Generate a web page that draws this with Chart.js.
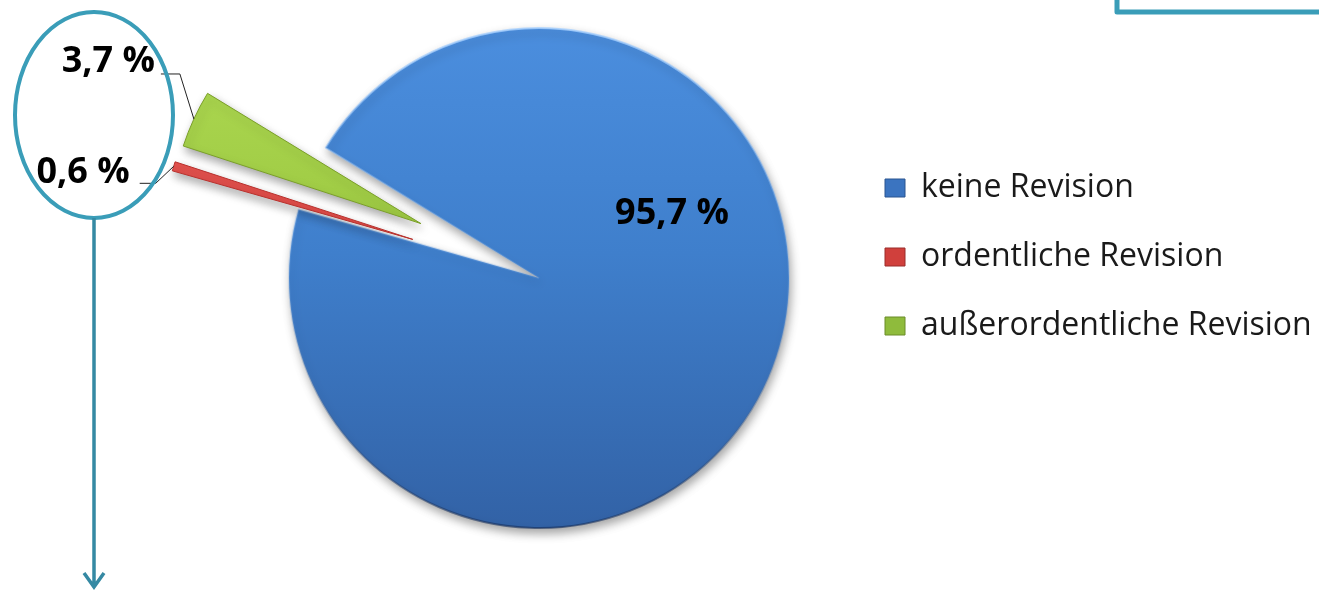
<!DOCTYPE html>
<html lang="de">
<head>
<meta charset="utf-8">
<title>Revisionen</title>
<script src="https://cdn.jsdelivr.net/npm/chart.js@4.4.1/dist/chart.umd.min.js"></script>
<style>
  html, body { margin: 0; padding: 0; background: #fff; }
  #wrap { position: relative; width: 1319px; height: 590px; }
</style>
</head>
<body>
<div id="wrap"><canvas id="revChart"></canvas></div>
<script>
// Anteile der Verfahren in Prozent
const categories = ['keine Revision', 'ordentliche Revision', 'außerordentliche Revision'];
const shares = [95.7, 0.6, 3.7];

const PIE_RADIUS = 250;
const TEAL = '#3a9db8';
const LABEL_FONT = 'bold 36px "Open Sans", Lato, sans-serif';

const fmt = v => v.toFixed(1).replace('.', ',') + ' %';

// arc that is pushed out along its middle angle by a fixed distance,
// without the radius and angle changes that the built-in offset brings
class ExplodedArc extends Chart.ArcElement {
  static id = 'explodedArc';
  static defaults = { ...Chart.ArcElement.defaults, explode: 0 };
  draw(ctx) {
    const d = this.options.explode || 0;
    const mid = (this.startAngle + this.endAngle) / 2;
    ctx.save();
    ctx.translate(Math.cos(mid) * d, Math.sin(mid) * d);
    super.draw(ctx);
    ctx.restore();
  }
}

class ExplodedPieController extends Chart.PieController {
  static id = 'explodedPie';
  static defaults = { dataElementType: 'explodedArc' };
}

Chart.register(ExplodedArc, ExplodedPieController);

// vertical shading per slice, light on top, darker below
function sliceFill(context) {
  const chart = context.chart;
  const area = chart.chartArea;
  if (!area) return '#3f7fcc';
  const cy = (area.top + area.bottom) / 2;
  const g = chart.ctx.createLinearGradient(0, cy - PIE_RADIUS, 0, cy + PIE_RADIUS);
  const stops = [
    ['#4b8ede', '#3f7fcc', '#3262a6'],
    ['#f26460', '#df4c48', '#b83532'],
    ['#b4df58', '#a0cc45', '#82a82c']
  ][context.dataIndex];
  g.addColorStop(0, stops[0]);
  g.addColorStop(0.45, stops[1]);
  g.addColorStop(1, stops[2]);
  return g;
}

function sliceEdge(context) {
  const chart = context.chart;
  const area = chart.chartArea;
  if (context.dataIndex === 1) return '#b8302c';
  if (context.dataIndex === 2) return '#7a9f28';
  if (!area) return 'rgba(0,0,0,0)';
  const cy = (area.top + area.bottom) / 2;
  const g = chart.ctx.createLinearGradient(0, cy - PIE_RADIUS, 0, cy + PIE_RADIUS);
  g.addColorStop(0, 'rgba(170,210,255,0.8)');
  g.addColorStop(0.5, 'rgba(120,170,230,0.25)');
  g.addColorStop(1, 'rgba(20,45,90,0.6)');
  return g;
}

// soft drop shadow under the slices
const softShadow = {
  id: 'softShadow',
  beforeDatasetsDraw(chart) {
    const c = chart.ctx;
    c.save();
    c.shadowColor = 'rgba(0,0,0,0.35)';
    c.shadowBlur = 10;
    c.shadowOffsetX = 2;
    c.shadowOffsetY = 5;
  },
  afterDatasetsDraw(chart) {
    chart.ctx.restore();
  }
};

// tip of a slice after it has been pushed out
function sliceCenter(arc) {
  const p = arc.getProps(['x', 'y', 'startAngle', 'endAngle'], true);
  const mid = (p.startAngle + p.endAngle) / 2;
  const d = arc.options.explode || 0;
  return { x: p.x + Math.cos(mid) * d, y: p.y + Math.sin(mid) * d, mid: mid };
}

// percentage labels, the small slices get leader lines
const sliceLabels = {
  id: 'sliceLabels',
  afterDraw(chart) {
    const ctx = chart.ctx;
    const arcs = chart.getDatasetMeta(0).data;
    ctx.save();
    ctx.font = LABEL_FONT;
    ctx.fillStyle = '#000';
    ctx.textBaseline = 'middle';

    // big slice: label inside
    const big = sliceCenter(arcs[0]);
    const a = -0.461;
    ctx.textAlign = 'center';
    ctx.fillText(fmt(shares[0]), big.x + Math.cos(a) * PIE_RADIUS * 0.594, big.y + Math.sin(a) * PIE_RADIUS * 0.594 + 2);

    // small slices: elbow line from the outer rim to the label
    const leaders = {
      1: { dx: -18, dy: 17, run: 16, gap: 10, lift: 11 },
      2: { dx: -14, dy: -45, run: 19, gap: 6, lift: 12 }
    };
    ctx.strokeStyle = '#222';
    ctx.lineWidth = 1;
    ctx.textAlign = 'right';
    [1, 2].forEach(i => {
      const c = sliceCenter(arcs[i]);
      const ox = c.x + Math.cos(c.mid) * PIE_RADIUS;
      const oy = c.y + Math.sin(c.mid) * PIE_RADIUS;
      const l = leaders[i];
      const ex = ox + l.dx, ey = oy + l.dy;
      ctx.beginPath();
      ctx.moveTo(ox, oy);
      ctx.lineTo(ex, ey);
      ctx.lineTo(ex - l.run, ey);
      ctx.stroke();
      ctx.fillText(fmt(shares[i]), ex - l.run - l.gap, ey - l.lift);
    });

    // highlight ring round the small labels and arrow downwards
    ctx.strokeStyle = TEAL;
    ctx.lineWidth = 4;
    ctx.beginPath();
    ctx.ellipse(94, 115, 79, 103, 0, 0, Math.PI * 2);
    ctx.stroke();

    ctx.strokeStyle = '#3589a3';
    ctx.lineWidth = 3.5;
    ctx.beginPath();
    ctx.moveTo(94, 218);
    ctx.lineTo(94, 586);
    ctx.moveTo(84, 573);
    ctx.lineTo(94, 587);
    ctx.lineTo(104, 573);
    ctx.stroke();

    // corner of the frame top right
    ctx.strokeStyle = TEAL;
    ctx.lineWidth = 5;
    ctx.lineJoin = 'round';
    ctx.beginPath();
    ctx.moveTo(1117, -2);
    ctx.lineTo(1117, 12);
    ctx.lineTo(1322, 12);
    ctx.stroke();
    ctx.restore();
  }
};

const legendFill = ['#3b74c0', '#d0403c', '#8fbb3c'];
const legendEdge = ['#2a5590', '#9a2c2a', '#6a8c28'];

new Chart(document.getElementById('revChart'), {
  type: 'explodedPie',
  data: {
    labels: categories,
    datasets: [{
      data: shares,
      backgroundColor: sliceFill,
      borderColor: sliceEdge,
      borderWidth: [2, 1, 1],
      explode: [0, 132, 130],
      radius: PIE_RADIUS
    }]
  },
  options: {
    responsive: true,
    maintainAspectRatio: false,
    animation: false,
    rotation: 301.4,
    layout: { padding: { left: 230, right: 0, top: 135, bottom: 169 } },
    plugins: {
      tooltip: { enabled: false },
      legend: {
        position: 'right',
        align: 'start',
        maxWidth: 471,
        labels: {
          font: { family: '"Open Sans", Lato, sans-serif', size: 32 },
          color: '#1a1a1a',
          boxWidth: 20,
          boxHeight: 18,
          padding: 37,
          generateLabels: () => categories.map((c, i) => ({
            text: c,
            fillStyle: legendFill[i],
            strokeStyle: legendEdge[i],
            lineWidth: 1,
            fontColor: '#1a1a1a',
            hidden: false,
            index: i
          }))
        }
      }
    }
  },
  plugins: [softShadow, sliceLabels]
});
</script>
</body>
</html>
